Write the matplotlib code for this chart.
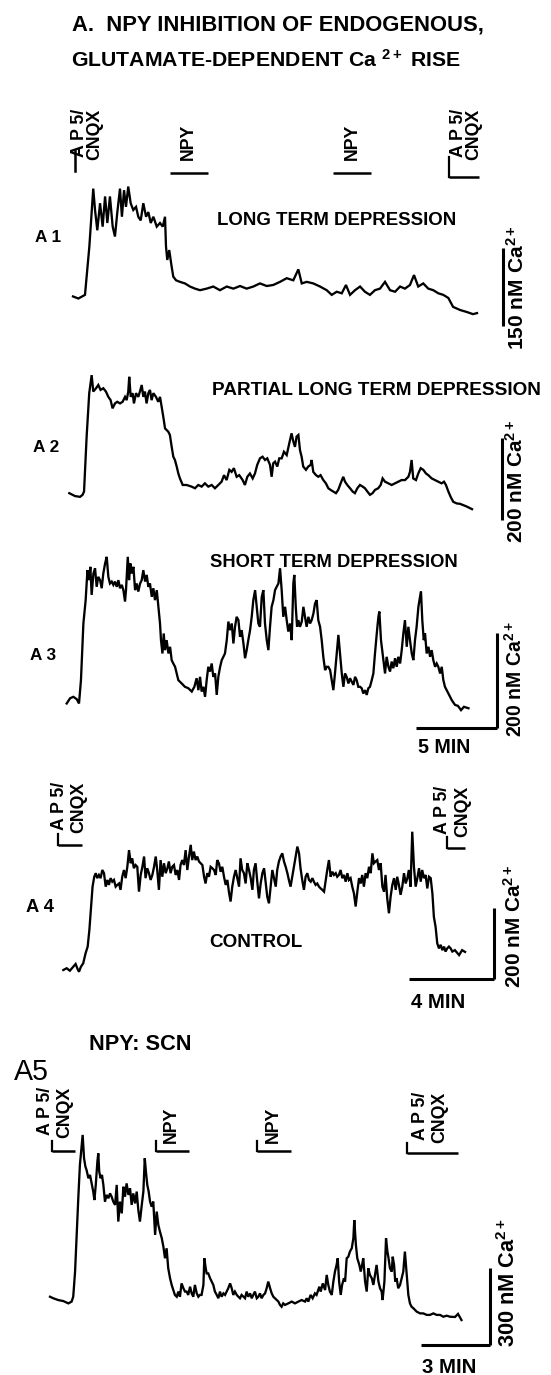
import matplotlib
matplotlib.use("Agg")
import matplotlib.pyplot as plt
import matplotlib.transforms as mtransforms

# ---------------- data (time in min, Ca2+ in nM above start level) ----------------
A1 = [(0.00,3),(0.33,-1),(0.74,6),(1.01,99),(1.25,210),(1.36,169),(1.50,130),(1.67,182),(1.83,137),
      (1.98,195),(2.12,144),(2.28,195),(2.45,137),(2.59,118),(2.73,163),(2.90,210),(3.02,156),(3.15,207),
      (3.27,175),(3.41,214),(3.56,182),(3.72,169),(3.89,175),(4.03,156),(4.18,149),(4.34,182),(4.51,156),
      (4.65,165),(4.80,144),(4.96,156),(5.17,137),(5.37,144),(5.54,137),(5.68,156),(5.74,99),(5.82,73),
      (5.94,92),(6.09,60),(6.19,41),(6.36,34),(6.60,31),(6.91,28),(7.22,22),(7.53,18),(7.84,15),(8.25,18),
      (8.66,22),(9.07,15),(9.49,22),(9.90,18),(10.31,23),(10.72,18),(11.13,22),(11.54,28),(11.96,23),
      (12.36,25),(12.78,31),(13.19,38),(13.60,34),(13.91,55),(14.12,28),(14.43,31),(14.83,28),(15.25,22),
      (15.66,15),(15.97,6),(16.28,12),(16.59,9),(16.85,25),(17.10,6),(17.41,15),(17.72,22),(18.02,12),
      (18.33,6),(18.64,15),(18.95,18),(19.26,31),(19.57,15),(19.88,12),(20.19,22),(20.49,18),(20.80,25),
      (21.05,44),(21.31,22),(21.62,28),(21.93,18),(22.24,15),(22.55,9),(22.86,6),(23.17,0),(23.46,-17),
      (23.89,-23),(24.32,-27),(24.69,-31),(24.94,-29)]

A2 = [(0,2),(0.35,-5),(0.66,-7),(0.82,-2),(0.91,6),(1.07,140),(1.23,246),(1.38,290),(1.48,250),(1.65,258),
      (1.79,266),(1.93,254),(2.10,258),(2.26,250),(2.41,237),(2.55,229),(2.67,209),(2.82,221),(2.96,225),
      (3.13,221),(3.29,225),(3.44,237),(3.54,229),(3.64,250),(3.70,286),(3.79,237),(3.91,246),(3.99,221),
      (4.12,246),(4.26,237),(4.36,250),(4.47,266),(4.57,237),(4.67,250),(4.77,221),(4.88,246),(4.98,254),
      (5.08,229),(5.19,246),(5.35,237),(5.49,225),(5.60,237),(5.70,213),(5.80,189),(5.91,160),(6.01,156),
      (6.11,152),(6.21,144),(6.32,115),(6.42,91),(6.52,83),(6.63,67),(6.73,50),(6.83,38),(7.00,22),(7.24,22),
      (7.55,18),(7.76,14),(7.96,22),(8.17,18),(8.37,26),(8.58,18),(8.79,22),(8.99,14),(9.20,22),(9.40,30),
      (9.55,46),(9.71,34),(9.88,59),(10.02,54),(10.16,63),(10.33,42),(10.49,46),(10.70,34),(10.84,22),
      (10.99,42),(11.15,50),(11.32,38),(11.46,50),(11.60,71),(11.77,87),(11.93,91),(12.08,83),(12.22,87),
      (12.39,71),(12.49,42),(12.59,75),(12.70,79),(12.84,67),(12.96,87),(13.11,87),(13.25,103),(13.42,95),
      (13.58,124),(13.72,148),(13.83,128),(13.93,115),(14.03,140),(14.14,144),(14.24,107),(14.34,91),
      (14.44,67),(14.61,59),(14.75,67),(14.90,71),(14.96,83),(15.06,54),(15.23,46),(15.37,42),(15.51,46),
      (15.68,34),(15.84,26),(15.99,14),(16.13,10),(16.30,6),(16.46,2),(16.60,10),(16.75,26),(16.91,42),
      (17.02,30),(17.16,22),(17.33,14),(17.49,6),(17.63,2),(17.78,14),(17.94,22),(18.11,18),(18.25,14),
      (18.40,6),(18.56,-2),(18.72,2),(18.87,10),(19.07,14),(19.22,22),(19.34,38),(19.49,30),(19.69,26),
      (19.90,22),(20.10,26),(20.31,30),(20.51,34),(20.72,34),(20.93,42),(21.03,54),(21.13,83),(21.23,38),
      (21.40,34),(21.54,50),(21.69,63),(21.85,59),(22.02,50),(22.16,46),(22.37,38),(22.57,34),(22.78,30),
      (22.98,26),(23.13,30),(23.25,22),(23.40,6),(23.54,-7),(23.70,-19),(23.91,-23),(24.12,-24),(24.50,-30),
      (24.86,-37)]

A3 = [(0,-1),(0.21,10),(0.41,13),(0.62,8),(0.76,-1),(0.88,48),(1.03,167),(1.17,216),(1.28,279),(1.38,258),
      (1.46,286),(1.54,227),(1.65,272),(1.75,283),(1.85,244),(1.95,265),(2.06,258),(2.16,241),(2.26,272),
      (2.37,293),(2.47,307),(2.57,265),(2.67,251),(2.78,255),(2.88,248),(2.98,255),(3.09,244),(3.19,258),
      (3.29,241),(3.40,248),(3.50,237),(3.60,213),(3.66,237),(3.77,307),(3.85,258),(3.93,293),(4.01,272),
      (4.12,286),(4.22,237),(4.32,251),(4.42,234),(4.53,251),(4.63,258),(4.73,279),(4.84,255),(4.94,269),
      (5.04,244),(5.14,251),(5.25,223),(5.35,241),(5.45,216),(5.56,237),(5.66,202),(5.76,167),(5.82,132),
      (5.91,104),(5.99,146),(6.07,111),(6.17,132),(6.28,104),(6.38,118),(6.48,90),(6.58,83),(6.69,76),
      (6.79,62),(6.89,48),(7.10,41),(7.30,34),(7.51,31),(7.72,24),(7.88,34),(8.02,52),(8.13,27),(8.23,55),
      (8.33,24),(8.44,34),(8.54,13),(8.64,48),(8.74,76),(8.85,66),(8.95,83),(9.05,55),(9.16,62),(9.26,17),
      (9.36,55),(9.47,76),(9.57,90),(9.67,97),(9.77,104),(9.88,132),(9.98,171),(10.08,153),(10.19,167),
      (10.29,125),(10.39,160),(10.49,181),(10.60,174),(10.70,139),(10.80,153),(10.91,125),(11.01,94),
      (11.11,111),(11.21,132),(11.32,153),(11.42,181),(11.52,216),(11.63,237),(11.73,202),(11.83,167),
      (11.93,160),(12.04,223),(12.14,237),(12.24,167),(12.35,132),(12.45,111),(12.55,160),(12.65,202),
      (12.76,216),(12.86,237),(12.96,244),(13.07,251),(13.17,283),(13.27,237),(13.37,181),(13.48,202),
      (13.58,174),(13.68,150),(13.79,167),(13.89,132),(13.99,251),(14.05,269),(14.14,202),(14.22,160),
      (14.30,174),(14.40,160),(14.51,171),(14.61,202),(14.71,181),(14.81,160),(14.92,181),(15.02,167),
      (15.12,174),(15.23,188),(15.33,209),(15.43,216),(15.53,174),(15.64,160),(15.74,132),(15.84,97),
      (15.95,69),(16.05,76),(16.15,76),(16.26,69),(16.36,48),(16.46,27),(16.56,62),(16.67,104),(16.77,143),
      (16.87,104),(16.98,62),(17.08,34),(17.18,62),(17.28,55),(17.39,41),(17.49,52),(17.59,45),(17.70,38),
      (17.80,55),(17.90,48),(18.00,34),(18.11,34),(18.21,31),(18.31,20),(18.42,27),(18.52,17),(18.62,31),
      (18.72,34),(18.83,48),(18.93,62),(19.03,104),(19.14,146),(19.24,181),(19.30,192),(19.40,132),
      (19.55,90),(19.65,62),(19.75,97),(19.86,76),(19.96,66),(20.06,87),(20.16,73),(20.27,94),(20.37,76),
      (20.47,97),(20.58,83),(20.68,111),(20.78,146),(20.88,174),(20.99,118),(21.09,160),(21.19,132),
      (21.30,104),(21.40,90),(21.50,132),(21.60,160),(21.71,202),(21.81,223),(21.87,234),(21.95,174),
      (22.04,132),(22.12,146),(22.22,104),(22.33,118),(22.43,97),(22.53,111),(22.63,90),(22.74,76),
      (22.84,83),(22.94,76),(23.05,62),(23.15,76),(23.25,48),(23.35,34),(23.56,20),(23.77,6),(23.97,-4),
      (24.15,-6),(24.34,-15),(24.52,-8),(24.80,-11)]

A4 = [(0.00,0),(0.16,5),(0.31,-2),(0.47,9),(0.58,17),(0.68,2),(0.74,-5),(0.83,9),(0.94,19),(1.05,47),
      (1.15,66),(1.23,113),(1.31,179),(1.38,235),(1.46,263),(1.53,273),(1.60,259),(1.68,268),(1.76,259),
      (1.84,282),(1.92,273),(2.00,235),(2.08,254),(2.15,240),(2.23,259),(2.31,249),(2.39,254),(2.47,235),
      (2.55,240),(2.63,244),(2.70,226),(2.78,263),(2.86,282),(2.94,259),(3.02,291),(3.10,338),(3.18,301),
      (3.25,315),(3.33,287),(3.41,296),(3.49,291),(3.57,221),(3.65,268),(3.73,291),(3.81,320),(3.88,259),
      (3.96,287),(4.04,273),(4.12,254),(4.20,268),(4.28,291),(4.36,320),(4.43,282),(4.51,226),(4.59,310),
      (4.67,263),(4.75,301),(4.83,273),(4.91,287),(4.98,306),(5.06,273),(5.14,291),(5.22,296),(5.30,268),
      (5.38,282),(5.46,254),(5.53,296),(5.61,310),(5.69,296),(5.77,338),(5.85,282),(5.93,320),(6.01,353),
      (6.08,310),(6.16,334),(6.24,310),(6.32,320),(6.40,306),(6.48,301),(6.56,296),(6.64,263),(6.71,244),
      (6.79,273),(6.87,263),(6.95,291),(7.03,287),(7.11,282),(7.19,268),(7.26,310),(7.34,301),(7.42,277),
      (7.50,291),(7.58,263),(7.66,240),(7.74,254),(7.81,221),(7.89,193),(7.97,235),(8.05,263),(8.13,282),
      (8.21,259),(8.29,235),(8.36,315),(8.44,282),(8.52,273),(8.60,244),(8.68,301),(8.76,282),(8.84,259),
      (8.92,226),(8.99,282),(9.07,301),(9.15,249),(9.23,202),(9.31,244),(9.39,273),(9.47,287),(9.54,249),
      (9.62,207),(9.70,188),(9.78,235),(9.86,282),(9.94,259),(10.02,235),(10.09,282),(10.17,306),(10.25,320),
      (10.33,329),(10.41,306),(10.49,291),(10.57,273),(10.64,254),(10.72,235),(10.80,263),(10.88,291),
      (10.96,320),(11.04,348),(11.12,329),(11.19,287),(11.27,254),(11.35,226),(11.43,263),(11.51,273),
      (11.59,254),(11.67,249),(11.75,259),(11.82,249),(11.90,240),(11.98,244),(12.06,235),(12.14,230),
      (12.22,226),(12.30,221),(12.37,249),(12.45,282),(12.53,310),(12.61,263),(12.69,277),(12.77,268),
      (12.85,273),(12.92,263),(13.00,268),(13.08,282),(13.16,259),(13.24,268),(13.32,249),(13.40,273),
      (13.47,254),(13.55,259),(13.63,235),(13.71,216),(13.79,179),(13.87,221),(13.95,259),(14.03,244),
      (14.10,268),(14.18,235),(14.26,273),(14.34,259),(14.42,291),(14.50,273),(14.58,329),(14.65,301),
      (14.73,306),(14.81,310),(14.89,282),(14.97,301),(15.05,235),(15.13,221),(15.20,268),(15.28,202),
      (15.36,160),(15.44,207),(15.52,240),(15.60,259),(15.68,226),(15.75,263),(15.83,240),(15.91,212),
      (15.99,235),(16.07,273),(16.15,244),(16.23,259),(16.30,282),(16.38,235),(16.46,390),(16.54,291),
      (16.62,235),(16.70,259),(16.78,287),(16.86,249),(16.93,282),(17.01,259),(17.09,268),(17.17,230),
      (17.25,263),(17.33,259),(17.41,216),(17.48,150),(17.56,122),(17.64,75),(17.72,61),(17.80,71),
      (17.88,56),(17.96,66),(18.03,52),(18.11,61),(18.19,66),(18.27,61),(18.35,52),(18.47,56),(18.67,42),
      (18.81,56),(18.95,51)]

A5 = [(0.00,5),(0.14,-1),(0.36,-8),(0.58,-12),(0.80,-21),(0.94,-14),(1.01,5),(1.09,103),(1.16,246),
      (1.23,389),(1.30,519),(1.38,597),(1.42,636),(1.48,545),(1.54,512),(1.59,499),(1.67,467),(1.74,480),
      (1.81,447),(1.88,415),(1.93,382),(1.99,441),(2.06,532),(2.10,564),(2.14,493),(2.20,467),(2.26,480),
      (2.32,441),(2.39,376),(2.46,402),(2.54,389),(2.61,408),(2.68,395),(2.75,376),(2.83,363),(2.90,441),
      (2.97,298),(3.04,376),(3.12,330),(3.19,434),(3.26,395),(3.33,447),(3.41,402),(3.48,428),(3.55,363),
      (3.62,408),(3.70,369),(3.77,415),(3.84,343),(3.91,298),(3.99,363),(4.06,415),(4.12,545),(4.17,493),
      (4.23,441),(4.29,415),(4.35,376),(4.42,356),(4.49,376),(4.57,246),(4.64,337),(4.71,285),(4.78,259),
      (4.86,233),(4.93,200),(5.00,155),(5.07,194),(5.14,116),(5.22,77),(5.29,51),(5.36,31),(5.43,12),
      (5.51,5),(5.58,25),(5.65,5),(5.72,57),(5.80,38),(5.87,25),(5.94,25),(6.01,12),(6.09,44),(6.16,18),
      (6.23,5),(6.30,51),(6.38,18),(6.45,5),(6.52,12),(6.59,12),(6.67,51),(6.71,155),(6.77,116),(6.81,96),
      (6.88,96),(6.96,77),(7.03,64),(7.10,51),(7.17,25),(7.25,12),(7.32,-1),(7.39,25),(7.46,5),(7.54,18),
      (7.61,12),(7.68,25),(7.75,38),(7.83,57),(7.90,38),(7.97,12),(8.04,25),(8.12,12),(8.19,5),(8.26,-1),
      (8.33,12),(8.41,5),(8.48,-1),(8.55,25),(8.62,5),(8.70,18),(8.77,-1),(8.84,12),(8.91,25),(8.99,-1),
      (9.06,5),(9.13,18),(9.20,-1),(9.28,12),(9.35,18),(9.42,38),(9.49,64),(9.57,38),(9.64,18),(9.71,5),
      (9.78,-1),(9.86,-8),(9.93,-14),(10.00,-27),(10.07,-34),(10.14,-21),(10.22,-27),(10.36,-21),
      (10.51,-14),(10.65,-21),(10.80,-14),(10.94,-8),(11.09,-14),(11.16,-1),(11.23,-14),(11.33,12),
      (11.42,-1),(11.52,18),(11.59,12),(11.71,44),(11.77,25),(11.86,57),(11.96,31),(12.03,90),(12.10,51),
      (12.17,25),(12.25,12),(12.32,64),(12.39,103),(12.46,129),(12.51,155),(12.57,64),(12.64,12),(12.70,51),
      (12.78,77),(12.83,64),(12.90,155),(12.97,161),(13.04,181),(13.12,194),(13.19,233),(13.23,304),
      (13.30,207),(13.36,155),(13.45,129),(13.51,103),(13.57,129),(13.62,155),(13.70,64),(13.77,25),
      (13.84,116),(13.91,90),(13.99,77),(14.06,51),(14.13,90),(14.20,129),(14.28,64),(14.35,38),(14.42,25),
      (14.46,-8),(14.54,64),(14.61,233),(14.67,181),(14.72,155),(14.78,116),(14.86,103),(14.90,161),
      (14.96,129),(15.01,64),(15.07,77),(15.14,38),(15.22,51),(15.29,77),(15.36,103),(15.43,181),(15.51,90),
      (15.58,12),(15.65,-21),(15.72,-34),(15.80,-40),(15.94,-53),(16.09,-60),(16.23,-60),(16.38,-66),
      (16.52,-66),(16.67,-60),(16.81,-66),(16.96,-66),(17.10,-73),(17.25,-69),(17.39,-73),(17.61,-74),
      (17.74,-62),(17.89,-86)]

# drug applications: (label, start min, end min or None for a tick only)
A1_events = [("AP5", 0.12, None), ("NPY", 6.0, 8.33), ("NPY", 16.05, 18.4), ("AP5", 23.2, 25.06)]
A4_events = [("AP5", -0.25, 0.88), ("AP5", 18.1, 18.95)]
A5_events = [("AP5", 0.09, 1.09), ("NPY", 4.59, 6.04), ("NPY", 9.0, 10.48), ("AP5", 15.52, 17.74)]

# calibration bars: (nM, minutes)
A1_scale = (150, None)
A2_scale = (200, None)
A3_scale = (200, 5)
A4_scale = (200, 4)
A5_scale = (300, 3)

EVENT_TEXT = {"AP5": "A P 5/\nCNQX", "NPY": "NPY"}

# ---------------- figure ----------------
W, H = 551, 1375
plt.rcParams['font.family'] = ['Liberation Sans', 'DejaVu Sans']
plt.rcParams['mathtext.fontset'] = 'custom'
for k_ in ('rm', 'it', 'bf', 'sf'):
    plt.rcParams['mathtext.' + k_] = 'Liberation Sans:bold'

fig = plt.figure(figsize=(W / 100, H / 100), dpi=100)
fig.patch.set_facecolor('white')
lay = fig.add_axes([0, 0, 1, 1])
lay.set_xlim(0, W)
lay.set_ylim(H, 0)
lay.axis('off')
rend = fig.canvas.get_renderer()


def fit(x, y, s, length, weight='bold', rot=0, ha='left', va='baseline'):
    t = lay.text(x, y, s, fontsize=10, fontweight=weight, rotation=rot, ha=ha, va=va, color='black')
    bb = t.get_window_extent(renderer=rend)
    size = bb.height if rot else bb.width
    t.set_fontsize(10 * length / size)
    return t


def panel(data, x0, y0, ppm, k):
    """axes whose data units are minutes / nM; x0,y0 pixel of (0,0), ppm px per min, k nM per px"""
    ax = fig.add_axes([0, 0, 1, 1])
    ax.set_xlim(-x0 / ppm, (W - x0) / ppm)
    ax.set_ylim((y0 - H) * k, y0 * k)
    ax.axis('off')
    ax.patch.set_alpha(0)
    t = [p[0] for p in data]
    c = [p[1] for p in data]
    ax.plot(t, c, color='black', lw=1.65, solid_joinstyle='miter', clip_on=False)
    return ax


def scalebar(ax, t_corner, ca_corner, scale, txt_x, txt_bottom, txt_len, min_txt=None):
    nm, mins = scale
    ax.plot([t_corner, t_corner], [ca_corner, ca_corner + nm], color='black', lw=2.2,
            solid_capstyle='butt', clip_on=False)
    if mins:
        ax.plot([t_corner - mins, t_corner], [ca_corner, ca_corner], color='black', lw=2.2,
                solid_capstyle='butt', clip_on=False)
    fit(txt_x, txt_bottom, f"{nm} nM Ca$^{{2+}}$", txt_len, rot=90, ha='center', va='bottom')
    if mins and min_txt:
        fit(min_txt[0], min_txt[1], f"{mins} MIN", min_txt[2])


def events(ax, evs, label_t, label_bottom, bar_y, tick_h, fs, lsp):
    tr = mtransforms.blended_transform_factory(ax.transData, lay.transData)
    for (lab, t0, t1), tc, yb, by, th in zip(evs, label_t, label_bottom, bar_y, tick_h):
        if t1 is None:
            ax.plot([t0, t0], [by - th, by], color='black', lw=1.8, transform=tr, clip_on=False)
        else:
            ax.plot([t0, t1], [by, by], color='black', lw=1.8, transform=tr, clip_on=False,
                    solid_capstyle='butt')
            if th:
                ax.plot([t0, t0], [by - th, by], color='black', lw=1.6, transform=tr, clip_on=False)
        ax.text(tc, yb, EVENT_TEXT[lab], transform=tr, rotation=90, ha='center', va='bottom',
                multialignment='right', fontsize=fs, fontweight='bold', linespacing=lsp)


# title
fit(72, 30, "A.  NPY INHIBITION OF ENDOGENOUS,", 410)
fit(71, 67, "GLUTAMATE-DEPENDENT Ca $^{2+}$ RISE", 390)

# A1
ax1 = panel(A1, 73, 298, 16.2, 1.92)
fit(35, 242, "A 1", 26)
fit(217, 225, "LONG TERM DEPRESSION", 238)
scalebar(ax1, 26.54, -54, A1_scale, 517, 350, 126)
events(ax1, A1_events, [0.86, 7.10, 17.22, 24.26], [160, 160, 160, 160],
       [171, 173, 173, 177], [20, 0, 0, 20], 12.8, 0.9)

# A2
ax2 = panel(A2, 69.3, 494, 16.2, 2.44)
fit(33, 452, "A 2", 26)
fit(212, 395, "PARTIAL LONG TERM DEPRESSION", 328)
scalebar(ax2, 26.71, -63, A2_scale, 516, 543, 124)

# A3
ax3 = panel(A3, 66.7, 703, 16.2, 2.1)
fit(30, 660, "A 3", 26)
fit(210, 567, "SHORT TERM DEPRESSION", 247)
scalebar(ax3, 26.56, -52.5, A3_scale, 515, 737, 117, (418, 753, 52))

# A4
ax4 = panel(A4, 63.3, 970, 21.2, 2.82)
fit(26, 912, "A 4", 28)
fit(209, 947, "CONTROL", 93)
scalebar(ax4, 20.32, -25, A4_scale, 514, 988, 124, (411, 1008, 54))
events(ax4, A4_events, [0.27, 18.36], [833, 837], [845, 848], [11, 11], 12.8, 1.2)

# A5
fit(89, 1050, "NPY: SCN", 102)
fit(14, 1080, "A5", 35, weight='normal')
ax5 = panel(A5, 50, 1298, 23, 3.9)
scalebar(ax5, 19.11, -183, A5_scale, 509, 1347, 130, (422, 1373, 54))
events(ax5, A5_events, [0.22, 5.26, 9.70, 16.52], [1138, 1143, 1143, 1143],
       [1151, 1151, 1151, 1153], [10, 10, 10, 10], 12.8, 1.2)

fig.savefig("out.png", dpi=100, facecolor='white')
